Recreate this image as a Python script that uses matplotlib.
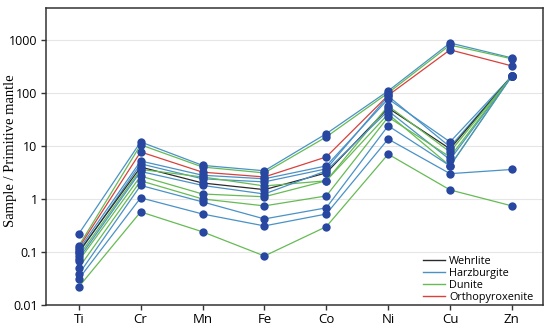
import numpy as np
import matplotlib
matplotlib.use('Agg')
import matplotlib.pyplot as plt
from matplotlib.lines import Line2D

elements = ['Ti', 'Cr', 'Mn', 'Fe', 'Co', 'Ni', 'Cu', 'Zn']

# normalised values per sample (Ti, Cr, Mn, Fe, Co, Ni, Cu, Zn)
harz_1 = [0.22, 11.9, 4.3, 3.4, 17.0, 109, 875, 457]
dunite_1 = [0.13, 10.5, 4.0, 3.1, 14.8, 100, 800, 440]
ortho_1 = [0.12, 7.7, 3.2, 2.6, 6.2, 90, 650, 323]
harz_2 = [0.11, 5.2, 2.8, 2.4, 4.2, 77, 11.9, 209]
wehr_1 = [0.10, 4.0, 2.0, 1.5, 3.1, 52, 8.8, 209]
harz_3 = [0.095, 4.6, 2.4, 2.1, 3.7, 87, 9.6, 209]
dunite_2 = [0.084, 3.6, 2.6, 1.76, 2.2, 57, 7.7, 209]
harz_4 = [0.075, 3.3, 1.8, 1.24, 3.4, 46, 5.5, 209]
dunite_3 = [0.068, 2.7, 1.24, 1.1, 2.2, 40, 4.2, 209]
dunite_4 = [0.05, 2.2, 1.0, 0.74, 1.14, 35, 6.2, 209]
harz_5 = [0.038, 1.8, 0.88, 0.42, 0.68, 24, 4.2, 209]
harz_6 = [0.031, 1.05, 0.52, 0.31, 0.52, 13.5, 3.0, 3.6]
dunite_5 = [0.022, 0.57, 0.24, 0.084, 0.30, 7.0, 1.48, 0.74]

samples = [
    (harz_1, 'Harzburgite'), (dunite_1, 'Dunite'), (ortho_1, 'Orthopyroxenite'),
    (harz_2, 'Harzburgite'), (harz_3, 'Harzburgite'), (wehr_1, 'Wehrlite'),
    (dunite_2, 'Dunite'), (harz_4, 'Harzburgite'), (dunite_3, 'Dunite'),
    (dunite_4, 'Dunite'), (harz_5, 'Harzburgite'), (harz_6, 'Harzburgite'),
    (dunite_5, 'Dunite'),
]

rock_types = ['Wehrlite', 'Harzburgite', 'Dunite', 'Orthopyroxenite']
colors = {'Wehrlite': '#2b2b2b', 'Harzburgite': '#4a92c6',
          'Dunite': '#66bb55', 'Orthopyroxenite': '#d8413c'}
dot_color = '#2747a0'

fig = plt.figure(figsize=(5.5, 3.3), dpi=100)
ax = fig.add_axes([0.0836, 0.0758, 0.9034, 0.90])

x = np.arange(len(elements))
for vals, rock in samples:
    ax.plot(x, vals, color=colors[rock], lw=0.9, zorder=2)
for vals, rock in samples:
    ax.scatter(x, vals, s=36, color=dot_color, zorder=3, linewidths=0)

ax.set_yscale('log')
ax.set_ylim(0.01, 4000)
ax.set_xlim(-0.53, 7.5)
ax.set_xticks(x)
ax.set_xticklabels(elements, fontsize=9.5, family='Open Sans')
ax.set_yticks([0.01, 0.1, 1, 10, 100, 1000])
ax.set_yticklabels(['0.01', '0.1', '1', '10', '100', '1000'], fontsize=9, family='Open Sans')
ax.minorticks_off()
ax.tick_params(axis='both', direction='out', length=3.5, width=1, color='#333333', pad=2.5)
ax.grid(axis='y', color='#e6e6e6', lw=0.8, zorder=0)
ax.set_axisbelow(True)
for s in ax.spines.values():
    s.set_color('#333333')
    s.set_linewidth(1.1)

ax.set_ylabel('Sample / Primitive mantle', family='Liberation Serif', fontsize=10.5)
ax.yaxis.set_label_coords(-0.058, 0.52)

handles = [Line2D([0], [0], color=colors[r], lw=1) for r in rock_types]
ax.legend(handles, rock_types, loc='lower right', bbox_to_anchor=(0.985, 0.0),
          frameon=False, handlelength=2.0, handletextpad=0.4, labelspacing=0.1,
          borderaxespad=0.0, borderpad=0.2, prop={'family': 'Open Sans', 'size': 7.8})

fig.savefig('out.png', dpi=100)
